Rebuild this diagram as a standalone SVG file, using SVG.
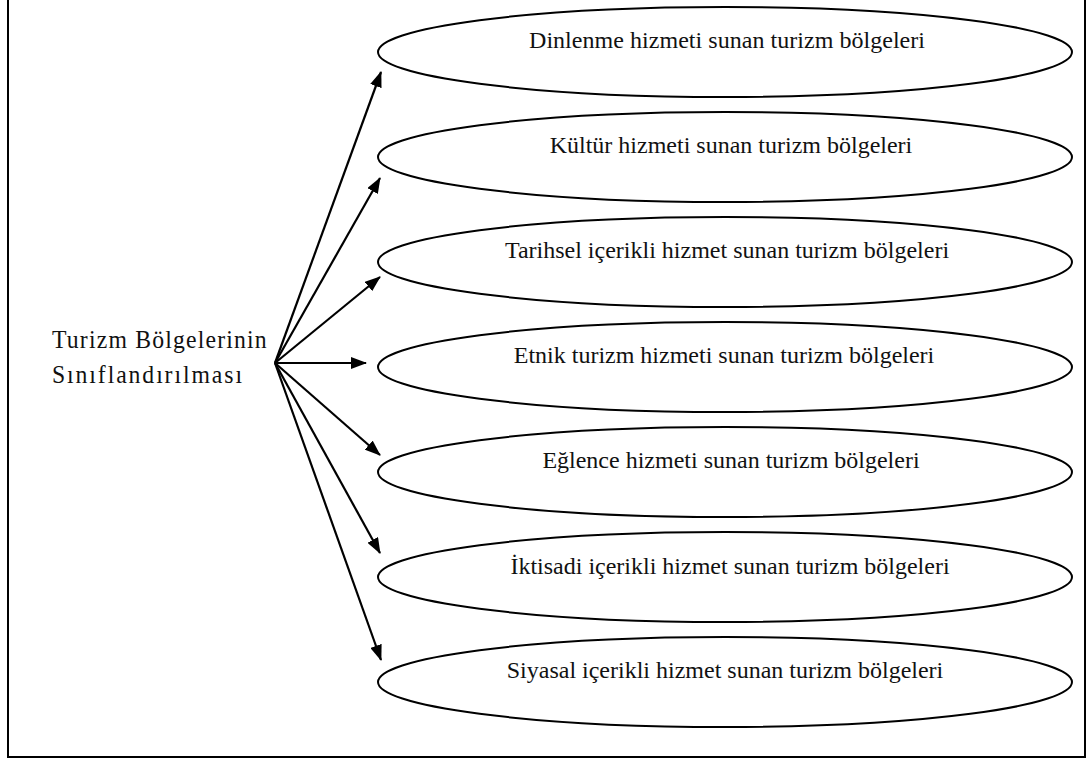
<svg xmlns="http://www.w3.org/2000/svg" width="1090" height="762" viewBox="0 0 1090 762">
  <style>
    .frame { fill: none; stroke: #000; stroke-width: 2; }
    .node ellipse { fill: #fff; stroke: #000; stroke-width: 2; }
    .node text { font-family: "Liberation Serif", "Times New Roman", serif; font-size: 24px; fill: #111; text-anchor: middle; }
    .root text { font-family: "Liberation Serif", "Times New Roman", serif; font-size: 25px; fill: #111; }
    .edges line { stroke: #000; stroke-width: 2.2; marker-end: url(#arrow); }
  </style>
  <defs>
    <marker id="arrow" markerUnits="userSpaceOnUse" markerWidth="16" markerHeight="12" viewBox="0 0 16 12" refX="15" refY="6" orient="auto">
      <path d="M0,0 L16,6 L0,12 Z" fill="#000"/>
    </marker>
  </defs>
  <rect width="1090" height="762" fill="#fff"/>

  <!-- outer frame; its top edge lies above the canvas -->
  <rect class="frame" x="8" y="-10" width="1077" height="767"/>

  <!-- source node -->
  <g id="root" class="root">
    <text transform="translate(52,348) scale(0.95,1)" textLength="226" lengthAdjust="spacing">Turizm Bölgelerinin</text>
    <text transform="translate(52,383) scale(0.95,1)" textLength="200" lengthAdjust="spacing">Sınıflandırılması</text>
  </g>

  <!-- connectors fan out from one point -->
  <g id="connectors" class="edges">
    <line x1="275" y1="363" x2="381" y2="72"/>
    <line x1="275" y1="363" x2="380" y2="178"/>
    <line x1="275" y1="363" x2="380" y2="277"/>
    <line x1="275" y1="363" x2="366" y2="363"/>
    <line x1="275" y1="363" x2="380" y2="455"/>
    <line x1="275" y1="363" x2="380" y2="553"/>
    <line x1="275" y1="363" x2="381" y2="660"/>
  </g>

  <g id="n1" class="node">
    <ellipse cx="725" cy="52" rx="347" ry="45"/>
    <text x="727" y="48" textLength="396" lengthAdjust="spacing">Dinlenme hizmeti sunan turizm bölgeleri</text>
  </g>
  <g id="n2" class="node">
    <ellipse cx="725" cy="157" rx="347" ry="45"/>
    <text x="731" y="153">Kültür hizmeti sunan turizm bölgeleri</text>
  </g>
  <g id="n3" class="node">
    <ellipse cx="725" cy="262" rx="347" ry="45"/>
    <text x="727" y="258">Tarihsel içerikli hizmet sunan turizm bölgeleri</text>
  </g>
  <g id="n4" class="node">
    <ellipse cx="725" cy="367" rx="347" ry="45"/>
    <text x="724" y="363">Etnik turizm hizmeti sunan turizm bölgeleri</text>
  </g>
  <g id="n5" class="node">
    <ellipse cx="725" cy="472" rx="347" ry="45"/>
    <text x="731" y="468">Eğlence hizmeti sunan turizm bölgeleri</text>
  </g>
  <g id="n6" class="node">
    <ellipse cx="725" cy="577" rx="347" ry="45"/>
    <text x="730" y="574">İktisadi içerikli hizmet sunan turizm bölgeleri</text>
  </g>
  <g id="n7" class="node">
    <ellipse cx="725" cy="682" rx="347" ry="45"/>
    <text x="725" y="678">Siyasal içerikli hizmet sunan turizm bölgeleri</text>
  </g>
</svg>
